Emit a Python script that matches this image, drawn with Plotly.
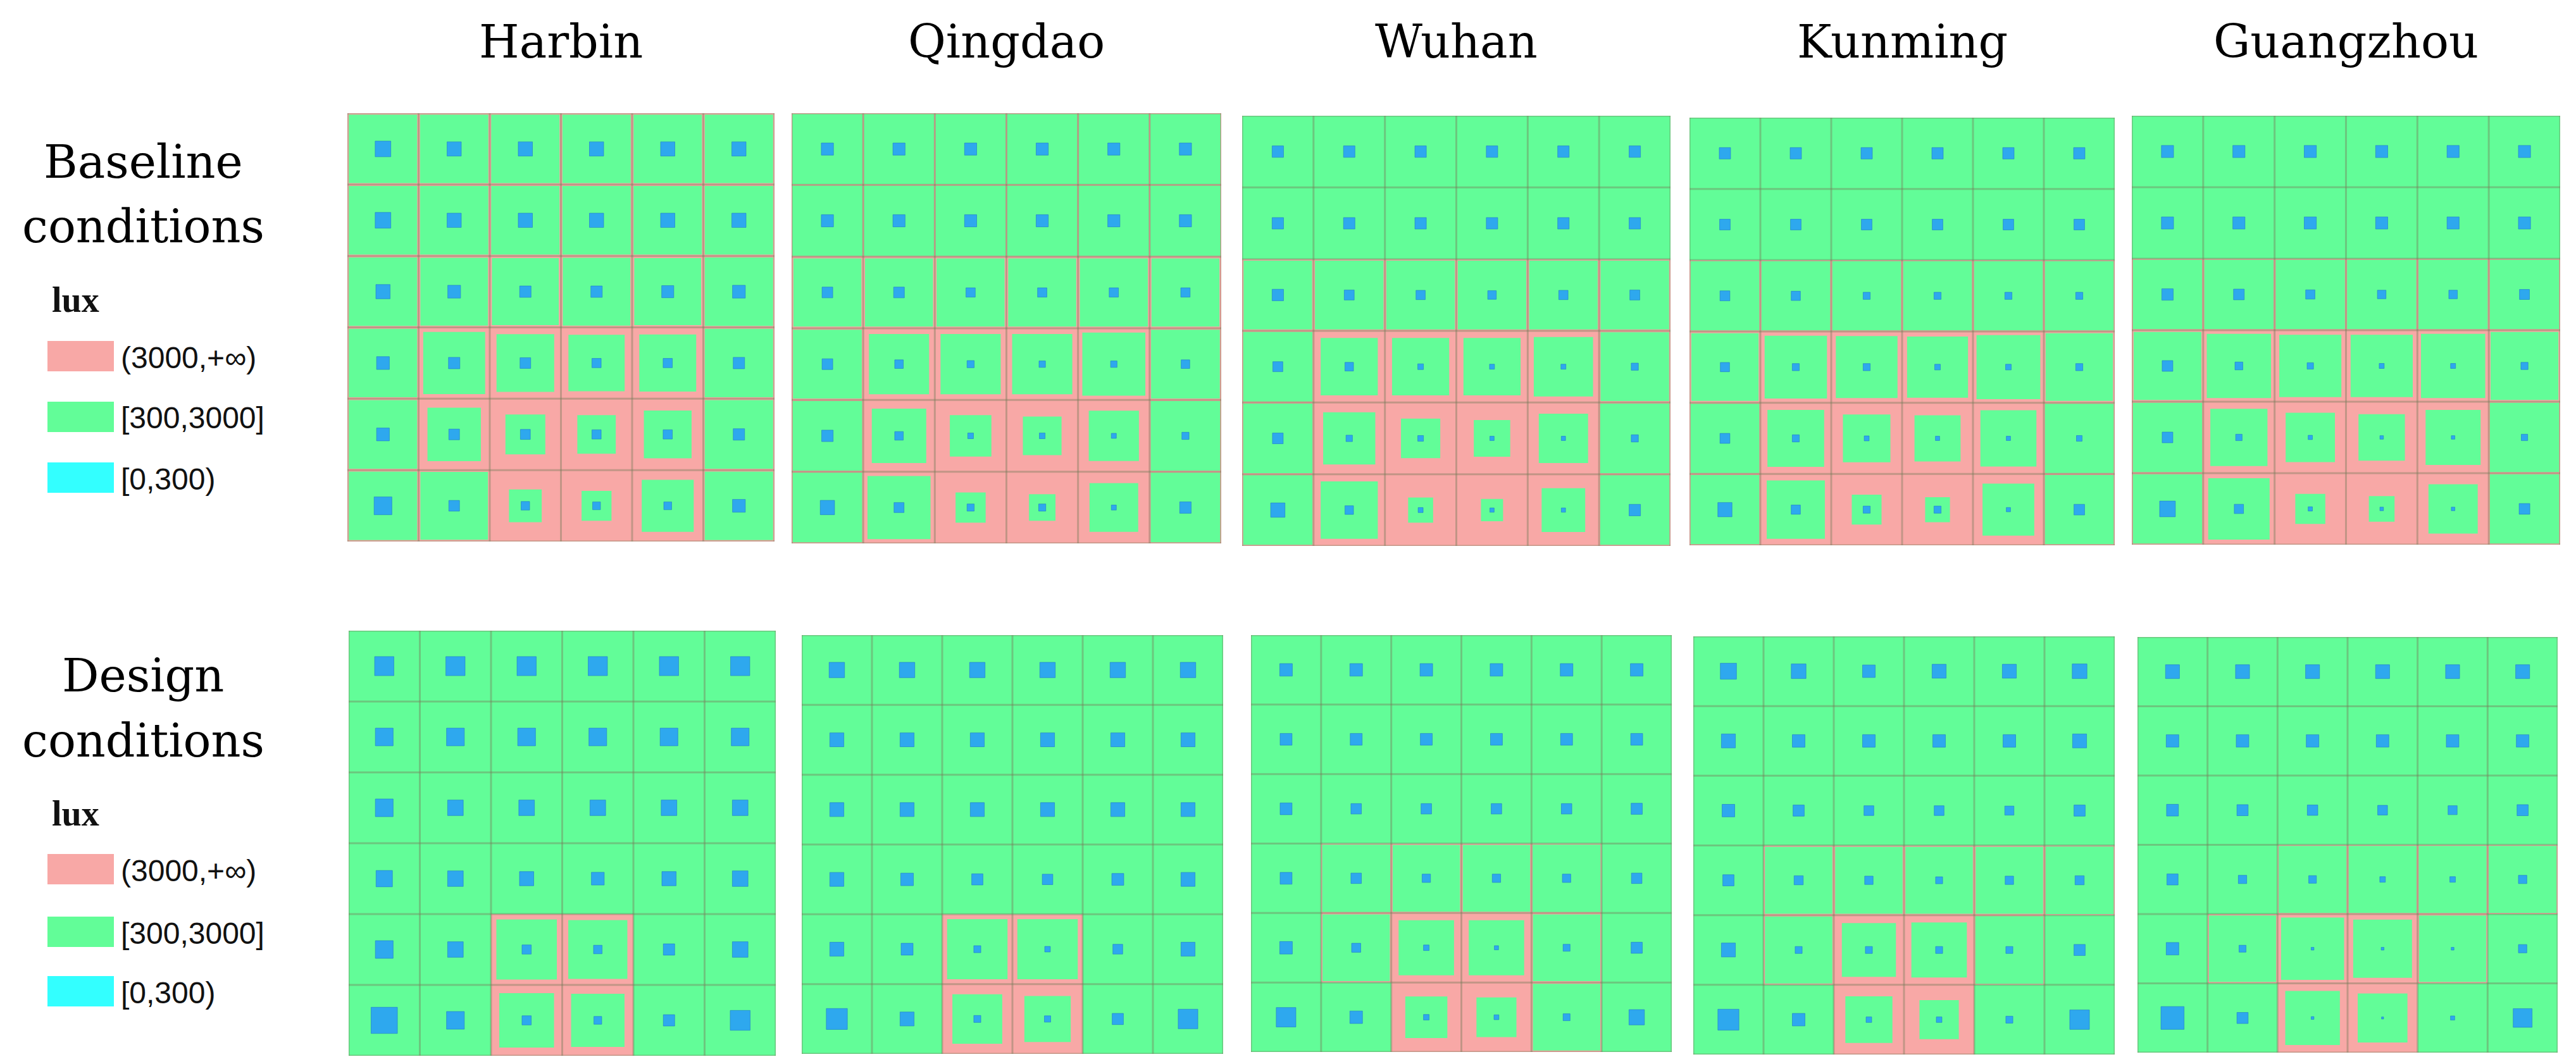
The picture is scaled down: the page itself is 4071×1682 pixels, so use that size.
import plotly.graph_objects as go

# ---------------- data ----------------
cities = ["Harbin", "Qingdao", "Wuhan", "Kunming", "Guangzhou"]
row_labels = [["Baseline", "conditions"], ["Design", "conditions"]]
legend_title = "lux"
legend_labels = ["(3000,+∞)", "[300,3000]", "[0,300)"]

# green_* : side of the [300,3000] lux square in each grid cell (1 = whole cell, rest is >3000 lux)
# blue_*  : side of the [0,300) lux square at the centre of each cell
green_base_harbin = [
    [0.96, 0.96, 0.96, 0.96, 0.96, 0.96],
    [0.96, 0.96, 0.96, 0.96, 0.96, 0.96],
    [0.96, 0.95, 0.94, 0.95, 0.94, 0.96],
    [0.96, 0.87, 0.81, 0.79, 0.80, 0.96],
    [0.96, 0.75, 0.56, 0.54, 0.67, 0.96],
    [0.96, 0.95, 0.46, 0.42, 0.73, 0.96]]
blue_base_harbin = [
    [0.22, 0.20, 0.20, 0.20, 0.20, 0.20],
    [0.22, 0.20, 0.20, 0.20, 0.20, 0.20],
    [0.20, 0.18, 0.16, 0.16, 0.17, 0.18],
    [0.18, 0.16, 0.15, 0.13, 0.13, 0.16],
    [0.18, 0.15, 0.14, 0.13, 0.13, 0.16],
    [0.25, 0.15, 0.12, 0.11, 0.11, 0.18]]

green_base_qingdao = [
    [0.98, 0.98, 0.98, 0.98, 0.98, 0.98],
    [0.98, 0.98, 0.98, 0.98, 0.98, 0.98],
    [0.95, 0.95, 0.95, 0.95, 0.95, 0.95],
    [0.96, 0.84, 0.84, 0.84, 0.88, 0.96],
    [0.97, 0.76, 0.58, 0.54, 0.70, 0.97],
    [0.97, 0.88, 0.42, 0.37, 0.68, 0.97]]
blue_base_qingdao = [
    [0.17, 0.17, 0.17, 0.17, 0.17, 0.17],
    [0.17, 0.17, 0.17, 0.17, 0.17, 0.17],
    [0.15, 0.15, 0.13, 0.13, 0.13, 0.13],
    [0.15, 0.12, 0.10, 0.09, 0.09, 0.12],
    [0.16, 0.12, 0.08, 0.08, 0.07, 0.10],
    [0.20, 0.14, 0.10, 0.10, 0.07, 0.16]]

green_base_wuhan = [
    [1.00, 1.00, 1.00, 1.00, 1.00, 1.00],
    [1.00, 1.00, 1.00, 1.00, 1.00, 1.00],
    [0.96, 0.96, 0.96, 0.96, 0.96, 0.96],
    [0.97, 0.80, 0.80, 0.80, 0.83, 0.96],
    [0.97, 0.73, 0.55, 0.51, 0.69, 0.97],
    [0.97, 0.80, 0.35, 0.31, 0.61, 0.97]]
blue_base_wuhan = [
    [0.16, 0.16, 0.16, 0.16, 0.16, 0.16],
    [0.16, 0.16, 0.16, 0.16, 0.16, 0.16],
    [0.16, 0.14, 0.13, 0.12, 0.13, 0.14],
    [0.14, 0.12, 0.08, 0.07, 0.07, 0.10],
    [0.15, 0.09, 0.08, 0.06, 0.06, 0.10],
    [0.20, 0.12, 0.07, 0.06, 0.06, 0.16]]

green_base_kunming = [
    [1.00, 1.00, 1.00, 1.00, 1.00, 1.00],
    [1.00, 1.00, 1.00, 1.00, 1.00, 1.00],
    [0.97, 0.97, 0.97, 0.97, 0.97, 0.97],
    [0.95, 0.88, 0.87, 0.86, 0.90, 0.95],
    [0.97, 0.80, 0.67, 0.65, 0.79, 0.97],
    [0.97, 0.82, 0.42, 0.35, 0.73, 0.97]]
blue_base_kunming = [
    [0.16, 0.16, 0.16, 0.16, 0.16, 0.16],
    [0.15, 0.15, 0.15, 0.15, 0.15, 0.15],
    [0.14, 0.13, 0.10, 0.10, 0.10, 0.10],
    [0.13, 0.10, 0.10, 0.08, 0.08, 0.10],
    [0.14, 0.10, 0.07, 0.06, 0.06, 0.08],
    [0.20, 0.13, 0.10, 0.10, 0.06, 0.15]]

green_base_guangzhou = [
    [1.00, 1.00, 1.00, 1.00, 1.00, 1.00],
    [1.00, 1.00, 1.00, 1.00, 1.00, 1.00],
    [0.97, 0.97, 0.97, 0.97, 0.97, 0.97],
    [0.95, 0.90, 0.87, 0.87, 0.90, 0.95],
    [0.97, 0.80, 0.69, 0.65, 0.77, 0.97],
    [0.97, 0.86, 0.42, 0.36, 0.69, 0.97]]
blue_base_guangzhou = [
    [0.17, 0.17, 0.17, 0.17, 0.17, 0.17],
    [0.17, 0.17, 0.17, 0.17, 0.17, 0.17],
    [0.16, 0.15, 0.13, 0.12, 0.12, 0.14],
    [0.15, 0.11, 0.09, 0.07, 0.07, 0.10],
    [0.15, 0.09, 0.06, 0.05, 0.05, 0.09],
    [0.22, 0.13, 0.06, 0.05, 0.05, 0.15]]

green_design_harbin = [
    [1.00, 1.00, 1.00, 1.00, 1.00, 1.00],
    [1.00, 1.00, 1.00, 1.00, 1.00, 1.00],
    [1.00, 1.00, 1.00, 1.00, 1.00, 1.00],
    [1.00, 1.00, 1.00, 1.00, 1.00, 1.00],
    [1.00, 1.00, 0.85, 0.83, 1.00, 1.00],
    [1.00, 1.00, 0.77, 0.75, 1.00, 1.00]]
blue_design_harbin = [
    [0.27, 0.27, 0.27, 0.27, 0.27, 0.27],
    [0.25, 0.25, 0.25, 0.25, 0.25, 0.25],
    [0.25, 0.22, 0.22, 0.22, 0.22, 0.22],
    [0.23, 0.22, 0.20, 0.18, 0.20, 0.22],
    [0.25, 0.22, 0.13, 0.12, 0.16, 0.22],
    [0.37, 0.25, 0.13, 0.11, 0.16, 0.28]]

green_design_qingdao = [
    [1.00, 1.00, 1.00, 1.00, 1.00, 1.00],
    [1.00, 1.00, 1.00, 1.00, 1.00, 1.00],
    [1.00, 1.00, 1.00, 1.00, 1.00, 1.00],
    [1.00, 1.00, 1.00, 1.00, 1.00, 1.00],
    [1.00, 1.00, 0.86, 0.86, 1.00, 1.00],
    [1.00, 1.00, 0.71, 0.66, 1.00, 1.00]]
blue_design_qingdao = [
    [0.22, 0.22, 0.22, 0.22, 0.22, 0.22],
    [0.20, 0.20, 0.20, 0.20, 0.20, 0.20],
    [0.20, 0.20, 0.20, 0.20, 0.20, 0.20],
    [0.20, 0.18, 0.16, 0.15, 0.17, 0.20],
    [0.20, 0.17, 0.10, 0.08, 0.14, 0.20],
    [0.30, 0.20, 0.10, 0.09, 0.16, 0.28]]

green_design_wuhan = [
    [1.00, 1.00, 1.00, 1.00, 1.00, 1.00],
    [1.00, 1.00, 1.00, 1.00, 1.00, 1.00],
    [1.00, 1.00, 1.00, 1.00, 1.00, 1.00],
    [1.00, 0.97, 0.96, 0.96, 0.97, 1.00],
    [1.00, 0.96, 0.79, 0.79, 0.96, 1.00],
    [1.00, 1.00, 0.60, 0.57, 0.96, 1.00]]
blue_design_wuhan = [
    [0.18, 0.18, 0.18, 0.18, 0.18, 0.18],
    [0.17, 0.17, 0.17, 0.17, 0.17, 0.17],
    [0.17, 0.15, 0.15, 0.15, 0.15, 0.16],
    [0.17, 0.15, 0.12, 0.12, 0.12, 0.15],
    [0.18, 0.13, 0.08, 0.06, 0.10, 0.16],
    [0.28, 0.18, 0.08, 0.07, 0.10, 0.22]]

green_design_kunming = [
    [1.00, 1.00, 1.00, 1.00, 1.00, 1.00],
    [1.00, 1.00, 1.00, 1.00, 1.00, 1.00],
    [1.00, 1.00, 1.00, 1.00, 1.00, 1.00],
    [1.00, 0.96, 0.96, 0.96, 0.96, 0.97],
    [1.00, 0.96, 0.77, 0.79, 0.97, 1.00],
    [1.00, 1.00, 0.67, 0.56, 1.00, 1.00]]
blue_design_kunming = [
    [0.23, 0.21, 0.18, 0.20, 0.20, 0.21],
    [0.20, 0.18, 0.18, 0.18, 0.18, 0.20],
    [0.18, 0.16, 0.14, 0.14, 0.13, 0.16],
    [0.16, 0.13, 0.12, 0.10, 0.12, 0.13],
    [0.20, 0.10, 0.10, 0.10, 0.10, 0.16],
    [0.30, 0.18, 0.08, 0.08, 0.10, 0.28]]

green_design_guangzhou = [
    [1.00, 1.00, 1.00, 1.00, 1.00, 1.00],
    [1.00, 1.00, 1.00, 1.00, 1.00, 1.00],
    [1.00, 1.00, 1.00, 1.00, 1.00, 1.00],
    [1.00, 1.00, 0.97, 0.97, 0.97, 0.97],
    [1.00, 0.96, 0.90, 0.84, 0.96, 1.00],
    [1.00, 1.00, 0.78, 0.71, 1.00, 1.00]]
blue_design_guangzhou = [
    [0.20, 0.20, 0.20, 0.20, 0.20, 0.20],
    [0.18, 0.18, 0.18, 0.18, 0.18, 0.18],
    [0.17, 0.16, 0.15, 0.14, 0.13, 0.16],
    [0.16, 0.12, 0.11, 0.08, 0.08, 0.12],
    [0.18, 0.10, 0.04, 0.04, 0.04, 0.12],
    [0.33, 0.16, 0.04, 0.03, 0.06, 0.27]]

green_panels = [
    [green_base_harbin, green_base_qingdao, green_base_wuhan, green_base_kunming, green_base_guangzhou],
    [green_design_harbin, green_design_qingdao, green_design_wuhan, green_design_kunming, green_design_guangzhou]]
blue_panels = [
    [blue_base_harbin, blue_base_qingdao, blue_base_wuhan, blue_base_kunming, blue_base_guangzhou],
    [blue_design_harbin, blue_design_qingdao, blue_design_wuhan, blue_design_kunming, blue_design_guangzhou]]

# ---------------- style / layout ----------------
W, H = 4071, 1682
PINK = "#F8A8A6"
GREEN = "#62FD98"
BLUE = "#2EA8EE"
CYAN = "#33FFFF"
GRID = "rgba(120,125,90,0.42)"
legend_colors = [PINK, GREEN, CYAN]

# panel boxes in pixels (x0, x1, y0, y1)
boxes = [
    [(541, 1216, 171, 848), (1243, 1922, 171, 851), (1955, 2632, 175, 855),
     (2662, 3334, 178, 854), (3361, 4038, 175, 853)],
    [(543, 1218, 989, 1661), (1259, 1925, 996, 1658), (1969, 2634, 996, 1655),
     (2668, 3334, 998, 1659), (3370, 4034, 999, 1656)]]


def square_paths(frac, only=None):
    xs, ys = [], []
    n = len(frac)
    for r in range(n):
        for c in range(len(frac[r])):
            f = frac[r][c]
            if only is not None and not only(f):
                continue
            cx, cy = c + 0.5, n - 0.5 - r
            h = f / 2.0
            xs += [cx - h, cx + h, cx + h, cx - h, cx - h, None]
            ys += [cy - h, cy - h, cy + h, cy + h, cy - h, None]
    return xs, ys


fig = go.Figure()
layout_axes = {}
k = 0
for ri in range(2):
    for ci in range(5):
        k += 1
        xa = "x" if k == 1 else f"x{k}"
        ya = "y" if k == 1 else f"y{k}"
        g = green_panels[ri][ci]
        b = blue_panels[ri][ci]
        n = len(g)
        # pink cells (cells where part exceeds 3000 lux)
        full = [[1.0 if v < 0.995 else 0.0 for v in row] for row in g]
        px, py = square_paths(full, only=lambda f: f > 0)
        if px:
            fig.add_trace(go.Scatter(x=px, y=py, xaxis=xa, yaxis=ya, mode="lines", fill="toself",
                                     fillcolor=PINK, line=dict(width=0), hoverinfo="skip", showlegend=False))
        gx, gy = square_paths(g)
        fig.add_trace(go.Scatter(x=gx, y=gy, xaxis=xa, yaxis=ya, mode="lines", fill="toself",
                                 fillcolor=GREEN, line=dict(width=0), hoverinfo="skip", showlegend=False))
        bx, by = square_paths(b)
        fig.add_trace(go.Scatter(x=bx, y=by, xaxis=xa, yaxis=ya, mode="lines", fill="toself",
                                 fillcolor=BLUE, line=dict(width=1, color="rgba(30,120,200,0.6)"),
                                 hoverinfo="skip", showlegend=False))
        lx, ly = [], []
        for i in range(n + 1):
            lx += [i, i, None]; ly += [0, n, None]
            lx += [0, n, None]; ly += [i, i, None]
        fig.add_trace(go.Scatter(x=lx, y=ly, xaxis=xa, yaxis=ya, mode="lines",
                                 line=dict(width=3, color=GRID), hoverinfo="skip", showlegend=False))
        x0, x1, y0, y1 = boxes[ri][ci]
        axk = "" if k == 1 else str(k)
        layout_axes["xaxis" + axk] = dict(domain=[x0 / W, x1 / W], range=[0, n], visible=False,
                                          fixedrange=True, anchor=ya)
        layout_axes["yaxis" + axk] = dict(domain=[1 - y1 / H, 1 - y0 / H], range=[0, n], visible=False,
                                          fixedrange=True, anchor=xa)

annotations = []
shapes = []
SERIF = "DejaVu Serif"
# column titles
for ci, name in enumerate(cities):
    x0, x1, _, _ = boxes[0][ci]
    annotations.append(dict(text=name, x=(x0 + x1) / 2 / W, y=1 - 57 / H, xref="paper", yref="paper",
                            xanchor="center", yanchor="middle", showarrow=False,
                            font=dict(family=SERIF, size=73, color="black")))

# row labels + legends
label_base = [(247, 349), (1059, 1162)]
lux_y = [466, 1278]
swatch_tops = [(531, 627, 723), (1342, 1441, 1535)]
for ri in range(2):
    for li, line in enumerate(row_labels[ri]):
        annotations.append(dict(text=line, x=218 / W, y=1 - label_base[ri][li] / H, xref="paper", yref="paper",
                                xanchor="center", yanchor="middle", showarrow=False,
                                font=dict(family=SERIF, size=73, color="black")))
    annotations.append(dict(text="<b>" + legend_title + "</b>", x=72 / W, y=1 - lux_y[ri] / H,
                            xref="paper", yref="paper", xanchor="left", yanchor="middle", showarrow=False,
                            font=dict(family="Liberation Serif", size=56, color="#111")))
    for j, (lab, col) in enumerate(zip(legend_labels, legend_colors)):
        t = swatch_tops[ri][j]
        shapes.append(dict(type="rect", xref="paper", yref="paper", x0=67 / W, x1=172 / W,
                           y0=1 - (t + 48) / H, y1=1 - t / H, fillcolor=col, line=dict(width=0)))
        annotations.append(dict(text=lab, x=181 / W, y=1 - (t + 26) / H, xref="paper", yref="paper",
                                xanchor="left", yanchor="middle", showarrow=False,
                                font=dict(family="Liberation Sans", size=48, color="#111")))

fig.update_layout(width=W, height=H, margin=dict(l=0, r=0, t=0, b=0),
                  paper_bgcolor="white", plot_bgcolor="white",
                  annotations=annotations, shapes=shapes, **layout_axes)
fig.write_html("out.html")
